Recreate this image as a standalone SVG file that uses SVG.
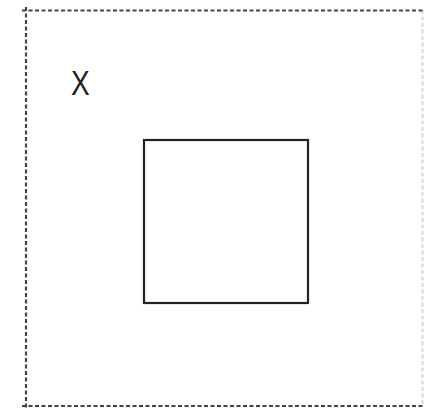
<svg xmlns="http://www.w3.org/2000/svg" width="425" height="410" viewBox="0 0 425 410">
<style>
.frame{stroke:#444;stroke-width:2.2;stroke-dasharray:4 2.5;fill:none}
.box{stroke:#222;stroke-width:2.2;fill:#fff}
.lbl{font-family:"Liberation Sans",Arial,sans-serif;font-size:35px;fill:#222}
</style>
<rect width="425" height="410" fill="#fff"/>
<g id="frame">
<line class="frame" x1="22" y1="10.5" x2="425" y2="10.5"/>
<line class="frame" x1="22" y1="406" x2="425" y2="406"/>
<line class="frame" x1="26" y1="7" x2="26" y2="410"/>
<line class="frame" x1="422.5" y1="10" x2="422.5" y2="406" stroke-opacity="0.2"/>
</g>
<g id="label-x">
<text class="lbl" transform="translate(71,95) scale(0.8,1)">X</text>
</g>
<g id="square">
<rect class="box" x="144" y="140" width="164" height="163"/>
</g>
<g id="connectors"/>
</svg>
